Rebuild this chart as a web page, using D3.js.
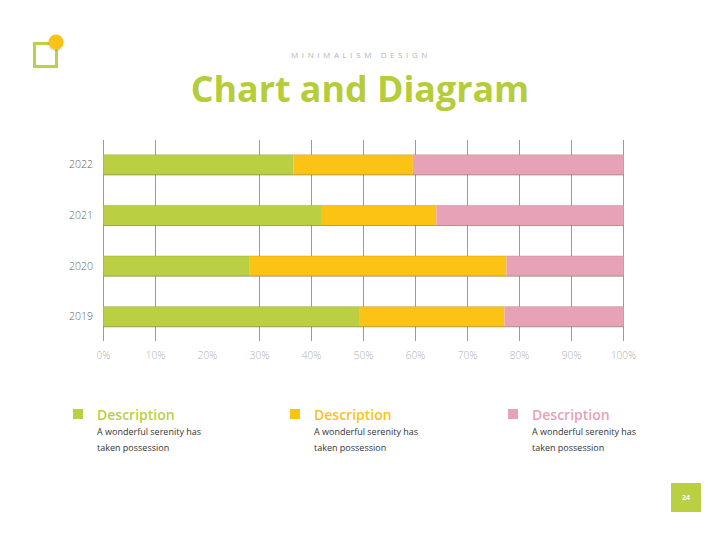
<!DOCTYPE html>
<html>
<head>
<meta charset="utf-8">
<script src="https://cdn.jsdelivr.net/npm/d3@7"></script>
<style>
  body { margin: 0; background: #fff; }
  svg { display: block; font-family: "Open Sans", sans-serif; }
</style>
</head>
<body>
<div id="graf"></div>
<script>
// Datos
const years = ['2022', '2021', '2020', '2019']
const greenValues = [36.5, 42, 28, 49.3]
const yellowValues = [23, 22, 49.5, 27.8]
const pinkValues = [40.5, 36, 22.5, 22.9]
const xTicks = [0, 10, 20, 30, 40, 50, 60, 70, 80, 90, 100]
const legendTitles = ['Description', 'Description', 'Description']
const legendLines = ['A wonderful serenity has', 'taken possession']

const colors = ['#bacf41', '#fcc314', '#e8a2b8']

const ancho = 720
const alto = 540

const svg = d3.select('#graf')
  .append('svg')
  .attr('width', ancho)
  .attr('height', alto)

// Logo
svg.append('rect')
  .attr('x', 34.5)
  .attr('y', 43.5)
  .attr('width', 22)
  .attr('height', 23)
  .attr('fill', 'none')
  .attr('stroke', '#bcd04a')
  .attr('stroke-width', 3)

const defs = svg.append('defs')
const shadow = defs.append('filter').attr('id', 'sombra')
shadow.append('feDropShadow')
  .attr('dx', 0).attr('dy', 1).attr('stdDeviation', 1)
  .attr('flood-color', '#000').attr('flood-opacity', 0.25)

svg.append('circle')
  .attr('cx', 56)
  .attr('cy', 42)
  .attr('r', 7.5)
  .attr('fill', '#fcc314')
  .attr('filter', 'url(#sombra)')

// Títulos
svg.append('text')
  .attr('x', 361)
  .attr('y', 58)
  .attr('text-anchor', 'middle')
  .attr('fill', '#b4b4b4')
  .attr('font-size', 8)
  .attr('letter-spacing', 3.6)
  .text('MINIMALISM DESIGN')

svg.append('text')
  .attr('x', 360)
  .attr('y', 102)
  .attr('text-anchor', 'middle')
  .attr('fill', '#b5cc3b')
  .attr('font-size', 35.8)
  .attr('font-weight', 700)
  .text('Chart and Diagram')

// Escaladores
const margins = { left: 103.5, right: 623.5, top: 140, bottom: 341 }

const x = d3.scaleLinear()
  .domain([0, 100])
  .range([margins.left, margins.right])

const y = d3.scaleBand()
  .domain(years)
  .range([139.5, 342])
  .paddingInner(0.6)
  .paddingOuter(0.3)

// Rejilla (la línea del 20% no se ve en el original)
const grid = svg.append('g')
grid.selectAll('line')
  .data(xTicks.filter((d) => d !== 20))
  .enter()
  .append('line')
  .attr('x1', (d) => x(d))
  .attr('x2', (d) => x(d))
  .attr('y1', 140)
  .attr('y2', 341)
  .attr('stroke', '#9a9a9a')
  .attr('stroke-width', 1)

// Barras apiladas
const rows = years.map((yr, i) => ({
  year: yr,
  values: [greenValues[i], yellowValues[i], pinkValues[i]]
}))

const stackData = rows.map((r) => {
  let acc = 0
  return r.values.map((v, k) => {
    const seg = { year: r.year, x0: acc, x1: acc + v, k: k }
    acc += v
    return seg
  })
}).flat()

svg.append('g')
  .selectAll('rect')
  .data(stackData)
  .enter()
  .append('rect')
  .attr('x', (d) => x(d.x0))
  .attr('width', (d) => x(d.x1) - x(d.x0))
  .attr('y', (d) => y(d.year))
  .attr('height', y.bandwidth())
  .attr('fill', (d) => colors[d.k])

// Líneas finas sobre las barras
const edges = svg.append('g')
edges.selectAll('line.bottom')
  .data(years)
  .enter()
  .append('line')
  .attr('class', 'bottom')
  .attr('x1', x(0))
  .attr('x2', x(100))
  .attr('y1', (d) => y(d) + y.bandwidth())
  .attr('y2', (d) => y(d) + y.bandwidth())
  .attr('stroke', '#6b6b3a')
  .attr('stroke-opacity', 0.55)
  .attr('stroke-width', 1)
edges.selectAll('line.top')
  .data(years)
  .enter()
  .append('line')
  .attr('class', 'top')
  .attr('x1', x(0))
  .attr('x2', x(100))
  .attr('y1', (d) => y(d))
  .attr('y2', (d) => y(d))
  .attr('stroke', '#6b6b3a')
  .attr('stroke-opacity', 0.2)
  .attr('stroke-width', 1)

// Etiquetas de ejes
svg.append('g')
  .selectAll('text')
  .data(years)
  .enter()
  .append('text')
  .attr('x', 93)
  .attr('y', (d) => y(d) + y.bandwidth() / 2)
  .attr('dy', '0.35em')
  .attr('text-anchor', 'end')
  .attr('fill', '#666')
  .attr('font-size', 10.5)
  .attr('font-weight', 300)
  .text((d) => d)

svg.append('g')
  .selectAll('text')
  .data(xTicks)
  .enter()
  .append('text')
  .attr('x', (d) => x(d))
  .attr('y', 359)
  .attr('text-anchor', 'middle')
  .attr('fill', '#b0b0b0')
  .attr('font-size', 10)
  .attr('font-weight', 300)
  .text((d) => d + '%')

// Leyenda
const legendX = [73, 290, 508]
const legend = svg.append('g')
  .selectAll('g')
  .data(legendTitles)
  .enter()
  .append('g')
  .attr('transform', (d, i) => `translate(${legendX[i]}, 0)`)

legend.append('rect')
  .attr('x', 0)
  .attr('y', 409)
  .attr('width', 10)
  .attr('height', 10)
  .attr('fill', (d, i) => colors[i])

legend.append('text')
  .attr('x', 24)
  .attr('y', 420)
  .attr('fill', (d, i) => colors[i])
  .attr('font-size', 14)
  .attr('font-weight', 600)
  .text((d) => d)

legendLines.forEach((line, j) => {
  legend.append('text')
    .attr('x', 24)
    .attr('y', 435 + j * 16)
    .attr('fill', '#333')
    .attr('font-size', 9)
    .text(line)
})

// Número de página
svg.append('rect')
  .attr('x', 671)
  .attr('y', 483)
  .attr('width', 30)
  .attr('height', 29)
  .attr('fill', '#bacf41')

svg.append('text')
  .attr('x', 686)
  .attr('y', 500)
  .attr('text-anchor', 'middle')
  .attr('fill', '#fff')
  .attr('font-size', 7)
  .attr('font-weight', 700)
  .text('24')
</script>
</body>
</html>
